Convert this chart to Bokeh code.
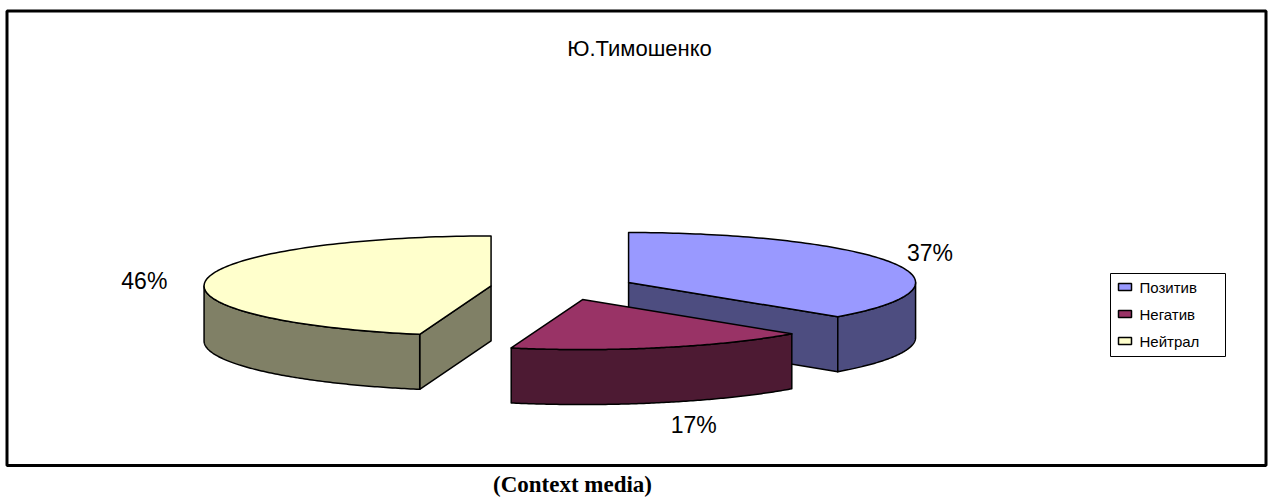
import numpy as np
from bokeh.plotting import figure
from bokeh.models import Range1d, ColumnDataSource
from bokeh.core.properties import value
from bokeh.embed import file_html
from bokeh.resources import INLINE

# ---- data ----
title_text = "Ю.Тимошенко"
categories = ["Позитив", "Негатив", "Нейтрал"]
shares = [37, 17, 46]
pct_labels = ["37%", "17%", "46%"]
top_colors = ["#9999FF", "#993366", "#FFFFCC"]
side_colors = ["#4D4D80", "#4D1A33", "#808066"]
caption_text = "(Context media)"

# ---- layout / style ----
W, H = 1272, 497
CX, CY = 562, 287          # pie centre (pixels)
A, B = 287, 50             # ellipse radii
DEPTH = 55                 # pie thickness
EXPLODE = 72               # explosion distance
label_nudge = [(38, -10), (31, 22), (-62, 1)]
FONT = "Liberation Sans"

p = figure(width=W, height=H, x_range=Range1d(0, W), y_range=Range1d(H, 0),
           min_border=0, toolbar_location=None, output_backend="svg",
           x_axis_type=None, y_axis_type=None)
p.grid.visible = False
p.outline_line_color = None
p.background_fill_color = "white"
p.border_fill_color = "white"

# chart frame
p.quad(left=[6.5], right=[1265.5], top=[10.5], bottom=[465], fill_color="white",
       line_color="black", line_width=3)

total = float(sum(shares))
start = 90.0
slices = []
for i, s in enumerate(shares):
    sweep = 360.0 * s / total
    t0, t1 = start, start - sweep
    start = t1
    m = np.radians((t0 + t1) / 2)
    ox = CX + EXPLODE * np.cos(m)
    oy = CY - EXPLODE * (B / A) * np.sin(m)
    slices.append(dict(i=i, t0=t0, t1=t1, m=m, ox=ox, oy=oy))


def arc(ox, oy, ta, tb, z=0.0, n=120):
    th = np.radians(np.linspace(ta, tb, n))
    return list(ox + A * np.cos(th)), list(oy - B * np.sin(th) + z)


xs, ys, fills = [], [], []
for sl in sorted(slices, key=lambda d: d["oy"]):
    i, t0, t1, ox, oy = sl["i"], sl["t0"], sl["t1"], sl["ox"], sl["oy"]
    # radial faces
    for t, nrm in ((t0, t0 + 90), (t1, t1 - 90)):
        if np.sin(np.radians(nrm)) < -1e-6:
            rx = ox + A * np.cos(np.radians(t))
            ry = oy - B * np.sin(np.radians(t))
            xs.append([ox, rx, rx, ox])
            ys.append([oy, ry, ry + DEPTH, oy + DEPTH])
            fills.append(side_colors[i])
    # outer wall (front half only)
    for k in (-1, 0, 1):
        lo = max(t1, -180 + 360 * k)
        hi = min(t0, 360 * k)
        if hi > lo:
            ax, ay = arc(ox, oy, lo, hi)
            bx, by = arc(ox, oy, hi, lo, DEPTH)
            xs.append(ax + bx)
            ys.append(ay + by)
            fills.append(side_colors[i])
    # top face
    ax, ay = arc(ox, oy, t0, t1)
    xs.append([ox] + ax)
    ys.append([oy] + ay)
    fills.append(top_colors[i])

src = ColumnDataSource(dict(xs=xs, ys=ys, fill=fills))
p.patches("xs", "ys", source=src, fill_color="fill", line_color="black",
          line_width=1.5, line_join="round")

# percentage labels
lx, ly = [], []
for sl in slices:
    m = sl["m"]
    rx = sl["ox"] + A * np.cos(m)
    ry = sl["oy"] - B * np.sin(m) + (DEPTH if np.sin(m) < 0 else 0)
    dx, dy = label_nudge[sl["i"]]
    lx.append(rx + dx)
    ly.append(ry + dy)
p.text(x=lx, y=ly, text=pct_labels, text_font=value(FONT), text_font_size="23px",
       text_align="center", text_baseline="middle", text_color="black")

# title
p.text(x=[639], y=[48], text=[title_text], text_font=value(FONT), text_font_size="22px",
       text_align="center", text_baseline="middle", text_color="black")

# legend
LX0, LX1, LY0, LY1 = 1110, 1225, 273, 356
p.quad(left=[LX0], right=[LX1], top=[LY0], bottom=[LY1], fill_color="white",
       line_color="black", line_width=1)
row_y = [286.5 + 27 * k for k in range(len(categories))]
p.quad(left=[1118] * 3, right=[1131] * 3, top=[y - 3.5 for y in row_y],
       bottom=[y + 3.5 for y in row_y], fill_color=top_colors, line_color="black",
       line_width=1.5)
p.text(x=[1139] * 3, y=row_y, text=categories, text_font=value(FONT),
       text_font_size="15px", text_align="left", text_baseline="middle",
       text_color="black")

# caption
p.text(x=[572], y=[484], text=[caption_text], text_font=value("Liberation Serif"),
       text_font_size="23px", text_font_style="bold", text_align="center",
       text_baseline="middle", text_color="black")

open("out.html", "w").write(file_html(p, INLINE))
